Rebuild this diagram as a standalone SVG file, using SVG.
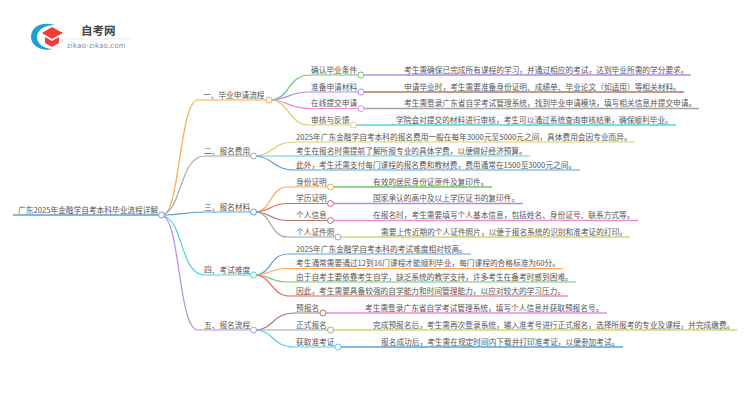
<svg xmlns="http://www.w3.org/2000/svg" width="750" height="410" viewBox="0 0 750 410">
<style>
text{font-family:"Noto Sans CJK SC","Noto Sans",sans-serif;font-size:7.7px;fill:#555}
path{fill:none;stroke-width:1.2}
.l{stroke-width:1.5}
circle{fill:#fff;stroke-width:1}
.or{stroke:#ffa64d}.gy{stroke:#a3a3a3}.bl{stroke:#5b9fd8}.cy{stroke:#4fd3e3}.pu{stroke:#b58be0}
.gr{stroke:#6cc56c}.pk{stroke:#f08ad8}.ye{stroke:#d4d46a}.br{stroke:#b5766c}.re{stroke:#ee5f5f}
</style>
<g id="logo">
<path d="M55 25C40 21 31 28 31 37C31 46 42 52 53 49C44 49 37 44 37 37C37 30 44 25 55 25Z" style="fill:#1e9fd8;stroke:none"/>
<path d="M52 27L63 33L52 39L42 33Z" style="fill:#ee3b3b;stroke:none"/>
<path d="M45 37L52 41L59 37V43L52 47L45 43Z" style="fill:#ee3b3b;stroke:none"/>
<path d="M66 39H131" style="stroke:#e8e8e8;stroke-width:.8"/>
<text x="81" y="35" style="font-size:11.5px;font-weight:700;fill:#444">自考网</text>
<text x="67" y="48" style="font-size:7.2px;fill:#888;letter-spacing:.3px">zikao-zikao.com</text>
</g>
<g id="connectors">
<path class="bl" style="stroke-width:1.6" d="M13 215H158"/>
<path class="or" d="M164 215C180 208 180 100 198 100H266"/>
<path class="gy" d="M164 214C182 208 180 156 205 156H250"/>
<path class="bl" d="M165 215C180 215 185 212 205 212H250"/>
<path class="cy" d="M164 216C184 222 180 275 205 275H250"/>
<path class="pu" d="M164 216C180 226 179 330 198 330H250"/>
<path class="gr" d="M272 100C290 98 288 75 310 75H358"/>
<path class="pu" d="M272 100C290 99 288 92 310 92H358"/>
<path class="pk" d="M272 100C290 101 288 108.500 310 108.500H358"/>
<path class="ye" d="M272 100C290 102 288 125 310 125H350"/>
<path class="l pu" d="M364 75H691"/>
<path class="l br" d="M364 92H684"/>
<path class="l gy" d="M364 108.500H699"/>
<path class="l cy" d="M356.500 125H676"/>
<path class="ye" d="M256.500 156C275 154 272 142 296 142H635"/>
<path class="cy" d="M256.500 156H530"/>
<path class="bl" d="M256.500 156C275 158 272 170 296 170H580"/>
<path class="or" d="M256.500 212C272 210 270 187 288 187H327.500"/>
<path class="re" d="M256.500 212C272 211 270 203.500 288 203.500H327.500"/>
<path class="br" d="M256.500 212C272 213 270 220.500 288 220.500H327.500"/>
<path class="gy" d="M256.500 212C272 214 270 237 288 237H335"/>
<path class="l gr" d="M333.500 187H492"/>
<path class="l pu" d="M333.500 203.500H523"/>
<path class="l pk" d="M333.500 220.500H638"/>
<path class="l ye" d="M341 237H630"/>
<path class="bl" d="M256.500 275C272 273 270 254 288 254H471"/>
<path class="or" d="M256.500 275C272 274 270 268.500 288 268.500H563"/>
<path class="gr" d="M256.500 275C272 276 270 282 288 282H576"/>
<path class="re" d="M256.500 275C272 277 272 296 290 296H568"/>
<path class="br" d="M256.500 330C275 328 272 313 295 313H320"/>
<path class="gy" d="M256.500 330H327.500"/>
<path class="cy" d="M256.500 330C275 332 272 347 295 347H335"/>
<path class="l pk" d="M326 313H607"/>
<path class="l ye" d="M333.500 330H737"/>
<path class="l bl" d="M341 347H623"/>
</g>
<g id="root"><text x="18" y="213">广东2025年金融学自考本科毕业流程详解</text><circle class="bl" cx="161.500" cy="215" r="3"/></g>
<g id="n1"><text x="203" y="98">一、毕业申请流程</text><circle class="or" cx="269" cy="100" r="3"/></g>
<g id="n2"><text x="204" y="154">二、报名费用</text><circle class="gy" cx="253.500" cy="156" r="3"/></g>
<g id="n3"><text x="204" y="210">三、报名材料</text><circle class="bl" cx="253.500" cy="212" r="3"/></g>
<g id="n4"><text x="204" y="273">四、考试难度</text><circle class="cy" cx="253.500" cy="275" r="3"/></g>
<g id="n5"><text x="204" y="328">五、报名流程</text><circle class="pu" cx="253.500" cy="330" r="3"/></g>
<g id="n11"><text x="311" y="73">确认毕业条件</text><circle class="gr" cx="361" cy="75" r="3"/><text x="404" y="73">考生需确保已完成所有课程的学习，并通过相应的考试，达到毕业所需的学分要求。</text></g>
<g id="n12"><text x="311" y="89.500">准备申请材料</text><circle class="pu" cx="361" cy="92" r="3"/><text x="404" y="89.500">申请毕业时，考生需要准备身份证明、成绩单、毕业论文（如适用）等相关材料。</text></g>
<g id="n13"><text x="311" y="106">在线提交申请</text><circle class="pk" cx="361" cy="108.500" r="3"/><text x="404" y="106">考生需登录广东省自学考试管理系统，找到毕业申请模块，填写相关信息并提交申请。</text></g>
<g id="n14"><text x="311" y="123">审核与反馈</text><circle class="ye" cx="353.500" cy="125" r="3"/><text x="396" y="123">学院会对提交的材料进行审核，考生可以通过系统查询审核结果，确保顺利毕业。</text></g>
<g id="n21"><text x="296" y="140">2025年广东金融学自考本科的报名费用一般在每年3000元至5000元之间，具体费用会因专业而异。</text></g>
<g id="n22"><text x="296" y="154">考生在报名时需提前了解所报专业的具体学费，以便做好经济预算。</text></g>
<g id="n23"><text x="296" y="168">此外，考生还需支付每门课程的报名费和教材费，费用通常在1500至3000元之间。</text></g>
<g id="n31"><text x="296" y="185">身份证明</text><circle class="or" cx="330.500" cy="187" r="3"/><text x="373" y="185">有效的居民身份证原件及复印件。</text></g>
<g id="n32"><text x="296" y="201">学历证明</text><circle class="re" cx="330.500" cy="203.500" r="3"/><text x="373" y="201">国家承认的高中及以上学历证书的复印件。</text></g>
<g id="n33"><text x="296" y="218">个人信息</text><circle class="br" cx="330.500" cy="220.500" r="3"/><text x="373" y="218">在报名时，考生需要填写个人基本信息，包括姓名、身份证号、联系方式等。</text></g>
<g id="n34"><text x="296" y="235">个人证件照</text><circle class="gy" cx="338" cy="237" r="3"/><text x="381" y="235">需要上传近期的个人证件照片，以便于报名系统的识别和准考证的打印。</text></g>
<g id="n41"><text x="296" y="252">2025年广东金融学自考本科的考试难度相对较高。</text></g>
<g id="n42"><text x="296" y="266">考生通常需要通过12到16门课程才能顺利毕业，每门课程的合格标准为60分。</text></g>
<g id="n43"><text x="296" y="280">由于自考主要依靠考生自学，缺乏系统的教学支持，许多考生在备考时感到困难。</text></g>
<g id="n44"><text x="296" y="294">因此，考生需要具备较强的自学能力和时间管理能力，以应对较大的学习压力。</text></g>
<g id="n51"><text x="296" y="311">预报名</text><circle class="br" cx="323" cy="313" r="3"/><text x="365" y="311">考生需登录广东省自学考试管理系统，填写个人信息并获取预报名号。</text></g>
<g id="n52"><text x="296" y="328">正式报名</text><circle class="gy" cx="330.500" cy="330" r="3"/><text x="373" y="328">完成预报名后，考生需再次登录系统，输入准考号进行正式报名，选择所报考的专业及课程，并完成缴费。</text></g>
<g id="n53"><text x="296" y="345">获取准考证</text><circle class="cy" cx="338" cy="347" r="3"/><text x="381" y="345">报名成功后，考生需在规定时间内下载并打印准考证，以便参加考试。</text></g>
</svg>
